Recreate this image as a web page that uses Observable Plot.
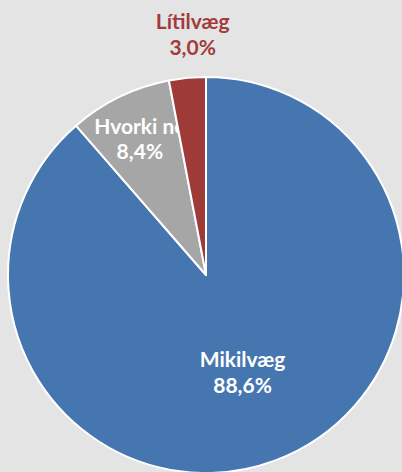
<!DOCTYPE html>
<html>
<head>
<meta charset="utf-8">
<script src="https://cdn.jsdelivr.net/npm/d3@7"></script>
<script src="https://cdn.jsdelivr.net/npm/@observablehq/plot@0.6"></script>
<style>
  html, body { margin: 0; padding: 0; background: #e4e4e4; }
  #chart svg { display: block; }
</style>
</head>
<body>
<div id="chart"></div>
<script>
const categories = ["Mikilvæg", "Hvorki né", "Lítilvæg"];
const values = [88.6, 8.4, 3.0];
const valueLabels = ["88,6%", "8,4%", "3,0%"];
const colors = ["#4676b0", "#a6a6a6", "#9e3a38"];
const textColors = ["#ffffff", "#ffffff", "#a23c3c"];
const labelRadius = [0.52, 0.77, 1.225];

const pie = d3.pie().sort(null).value(d => d.value).startAngle(0).endAngle(2 * Math.PI);
const data = categories.map((c, i) => ({category: c, value: values[i], label: valueLabels[i], color: colors[i], text: textColors[i], k: labelRadius[i]}));
const arcs = pie(data);
const slices = arcs.map(a => {
  const mid = (a.startAngle + a.endAngle) / 2;
  return {...a.data, startAngle: a.startAngle, endAngle: a.endAngle,
    lx: Math.sin(mid) * a.data.k, ly: Math.cos(mid) * a.data.k};
});

function sliceMark(filterFn) {
  return (index, scales, values, dimensions, context) => {
    const cx = scales.x(0), cy = scales.y(0);
    const r = scales.x(1) - scales.x(0);
    const arc = d3.arc().innerRadius(0).outerRadius(r);
    const g = d3.create("svg:g").attr("transform", `translate(${cx},${cy})`);
    g.selectAll("path").data(slices.filter(filterFn)).join("path")
      .attr("d", d => arc(d))
      .attr("fill", d => d.color)
      .attr("stroke", "#ffffff")
      .attr("stroke-width", 2)
      .attr("stroke-linejoin", "round");
    return g.node();
  };
}

const textStyle = {
  fontFamily: "Lato, 'Open Sans', sans-serif",
  fontSize: 21,
  fontWeight: "bold",
  lineHeight: 1.2,
  textAnchor: "middle"
};

const chart = Plot.plot({
  width: 402,
  height: 472,
  margin: 0,
  style: {background: "#e4e4e4", overflow: "visible"},
  x: {domain: [-1, 1], range: [8, 404], axis: null},
  y: {domain: [-1, 1], range: [473, 77], axis: null},
  marks: [
    sliceMark(d => d.category !== "Lítilvæg"),
    Plot.text(slices.filter(d => d.category !== "Lítilvæg"), {
      x: "lx", y: "ly", text: d => d.category + "\n" + d.label, fill: "text", ...textStyle
    }),
    sliceMark(d => d.category === "Lítilvæg"),
    Plot.text(slices.filter(d => d.category === "Lítilvæg"), {
      x: "lx", y: "ly", dx: 9, text: d => d.category + "\n" + d.label, fill: "text", ...textStyle
    })
  ]
});
document.getElementById("chart").appendChild(chart);
</script>
</body>
</html>
